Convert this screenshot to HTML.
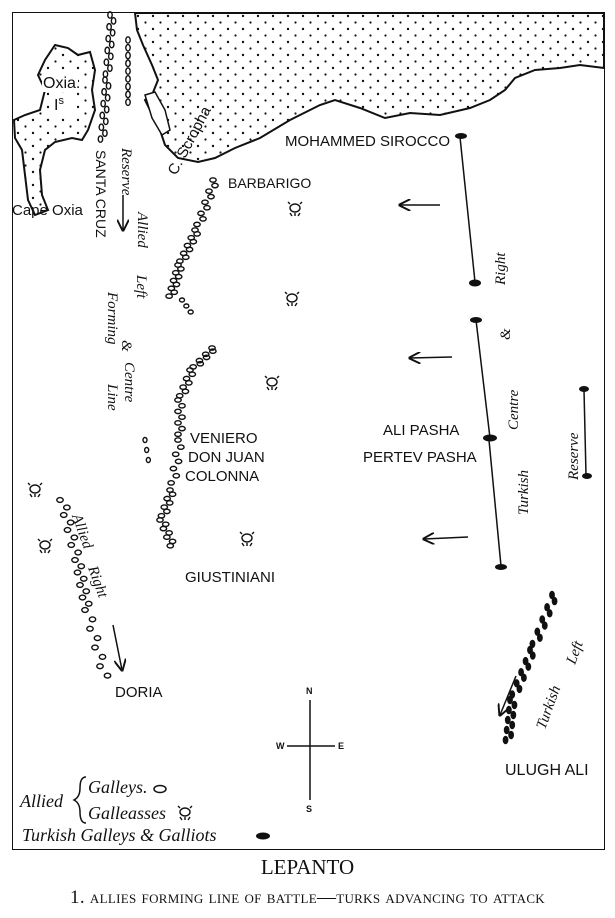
<!DOCTYPE html><html><head><meta charset="utf-8"><style>
html,body{margin:0;padding:0;background:#fff;width:615px;height:918px;overflow:hidden}
svg{position:absolute;left:0;top:0}
.t{font-family:"Liberation Sans",sans-serif;font-size:15px;fill:#111}
.i{font-family:"Liberation Serif",serif;font-style:italic;font-size:15px;fill:#111}
.cap{position:absolute;left:0;width:615px;text-align:center;font-family:"Liberation Serif",serif;color:#111}
</style></head><body>
<svg id="s" width="615" height="918" viewBox="0 0 615 918">
<defs><pattern id="dots" width="15" height="13" patternUnits="userSpaceOnUse"><circle cx="3" cy="3" r="1.2" fill="#111"/><circle cx="10.5" cy="9.5" r="1.1" fill="#111"/></pattern>
<marker id="ah" markerWidth="8" markerHeight="8" refX="7" refY="4" orient="auto"><path d="M0,0 L8,4 L0,8" fill="none" stroke="#111" stroke-width="1.3"/></marker></defs>
<rect x="12.5" y="12.5" width="592" height="837" fill="none" stroke="#111" stroke-width="1"/>
<path d="M135,13 L137,30 143,45 152,65 158,80 152,95 145,100 150,110 160,130 165,145 178,158 198,162 215,158 235,148 260,138 290,120 320,105 335,100 360,108 385,118 410,113 440,115 470,108 490,100 505,90 515,78 535,70 560,68 580,65 604,68 L604,13 Z" fill="url(#dots)" stroke="#111" stroke-width="2"/>
<path d="M145,95 L155,92 165,110 170,130 162,135 152,118 Z" fill="#fff" stroke="#111" stroke-width="1.5"/>
<path d="M55,45 L68,48 78,55 90,52 95,70 92,90 95,110 88,130 82,140 72,138 55,142 45,150 40,170 42,195 48,210 35,215 28,200 25,175 22,150 15,138 14,120 25,115 40,110 45,90 38,75 45,60 Z" fill="url(#dots)" stroke="#111" stroke-width="2"/>
<rect x="42" y="72" width="36" height="20" fill="#fff"/><rect x="52" y="93" width="25" height="22" fill="#fff"/>
<text class="t" x="43" y="88" style="font-size:16px">Oxia.</text>
<text class="t" x="54" y="110" style="font-size:16px">I<tspan font-size="11" dy="-6">s</tspan></text>
<text class="t" x="12" y="215" style="font-size:15px">Cape Oxia</text>
<text class="t" transform="translate(176,176) rotate(-62)" style="font-size:15px">C. Scropha</text>
<text class="t" x="285" y="146" style="font-size:15px">MOHAMMED SIROCCO</text>
<text class="t" x="228" y="188" style="font-size:14px">BARBARIGO</text>
<text class="t" x="190" y="443" style="font-size:15px">VENIERO</text>
<text class="t" x="188" y="462" style="font-size:15px">DON JUAN</text>
<text class="t" x="185" y="481" style="font-size:15px">COLONNA</text>
<text class="t" x="185" y="582" style="font-size:15px">GIUSTINIANI</text>
<text class="t" x="115" y="697" style="font-size:15px">DORIA</text>
<text class="t" x="383" y="435" style="font-size:15px">ALI PASHA</text>
<text class="t" x="363" y="462" style="font-size:15px">PERTEV PASHA</text>
<text class="t" x="505" y="775" style="font-size:16px">ULUGH ALI</text>
<text class="i" transform="translate(122,148) rotate(90)">Reserve</text>
<text class="t" transform="translate(96,150) rotate(90)" style="font-size:14px">SANTA CRUZ</text>
<text class="i" transform="translate(138,212) rotate(90)">Allied</text>
<text class="i" transform="translate(137,275) rotate(90)">Left</text>
<text class="i" transform="translate(108,292) rotate(90)">Forming</text>
<text class="i" transform="translate(122,340) rotate(90)">&amp;</text>
<text class="i" transform="translate(125,362) rotate(90)">Centre</text>
<text class="i" transform="translate(108,384) rotate(90)">Line</text>
<text class="i" transform="translate(72,516) rotate(70)">Allied</text>
<text class="i" transform="translate(88,568) rotate(70)">Right</text>
<text class="i" transform="translate(505,285) rotate(-90)">Right</text>
<text class="i" transform="translate(510,340) rotate(-90)">&amp;</text>
<text class="i" transform="translate(518,430) rotate(-90)">Centre</text>
<text class="i" transform="translate(528,515) rotate(-90)">Turkish</text>
<text class="i" transform="translate(578,480) rotate(-90)">Reserve</text>
<text class="i" transform="translate(575,665) rotate(-70)">Left</text>
<text class="i" transform="translate(545,730) rotate(-70)">Turkish</text>
<line x1="460" y1="137" x2="475" y2="282" stroke="#111" stroke-width="1.5"/>
<line x1="476" y1="320" x2="490" y2="438" stroke="#111" stroke-width="1.5"/>
<line x1="489" y1="440" x2="501" y2="566" stroke="#111" stroke-width="1.5"/>
<line x1="584" y1="390" x2="586" y2="475" stroke="#111" stroke-width="1.5"/>
<g fill="#111"><ellipse cx="461" cy="136" rx="6" ry="3"/><ellipse cx="475" cy="283" rx="6" ry="3.5"/><ellipse cx="476" cy="320" rx="6" ry="3"/><ellipse cx="490" cy="438" rx="7" ry="3.5"/><ellipse cx="501" cy="567" rx="6" ry="3"/><ellipse cx="584" cy="389" rx="5" ry="3"/><ellipse cx="587" cy="476" rx="5" ry="3"/><ellipse cx="263" cy="836" rx="7" ry="3.5"/></g>
<g stroke="#111" stroke-width="1.5" fill="none">
<line x1="440" y1="205" x2="400" y2="205" marker-end="url(#ah)"/>
<line x1="452" y1="357" x2="410" y2="358" marker-end="url(#ah)"/>
<line x1="468" y1="537" x2="424" y2="539" marker-end="url(#ah)"/>
<line x1="123" y1="195" x2="123" y2="230" marker-end="url(#ah)"/>
<line x1="113" y1="625" x2="122" y2="670" marker-end="url(#ah)"/>
<line x1="516" y1="676" x2="500" y2="715" marker-end="url(#ah)"/>
<line x1="310" y1="700" x2="310" y2="800" /><line x1="287" y1="746" x2="335" y2="746"/>
<path d="M86,777 Q80,777 80,788 Q80,797 74,800 Q80,803 80,812 Q80,823 86,823"/>
</g>
<g class="t" style="font-size:9px;font-weight:bold"><text x="306" y="694">N</text><text x="276" y="749">W</text><text x="338" y="749">E</text><text x="306" y="812">S</text></g>
<text class="i" x="20" y="807" style="font-size:18px">Allied</text>
<text class="i" x="88" y="793" style="font-size:18px">Galleys.</text>
<text class="i" x="88" y="819" style="font-size:18px">Galleasses</text>
<text class="i" x="22" y="841" style="font-size:18px">Turkish  Galleys  &amp;  Galliots</text>
<ellipse cx="160" cy="789" rx="6" ry="3.5" fill="none" stroke="#111" stroke-width="1.5"/>
<g id="g"></g>
</svg>
<div class="cap" style="top:855px;font-size:21px">LEPANTO</div>
<div class="cap" style="top:887px;font-size:19px;font-variant:small-caps;letter-spacing:0.3px">1. allies forming line of battle—turks advancing to attack</div>
<script>
var g=document.getElementById('g'),ns='http://www.w3.org/2000/svg';
function el(cx,cy,rx,ry,fill,rot){var e=document.createElementNS(ns,'ellipse');e.setAttribute('cx',cx);e.setAttribute('cy',cy);e.setAttribute('rx',rx);e.setAttribute('ry',ry);e.setAttribute('fill',fill?'#111':'none');e.setAttribute('stroke','#111');e.setAttribute('stroke-width','1.4');if(rot)e.setAttribute('transform','rotate('+rot+' '+cx+' '+cy+')');g.appendChild(e);}
function chain(pts,n,rx,ry,fill,off){for(var s=0;s<pts.length-1;s++){var a=pts[s],b=pts[s+1];for(var k=0;k<n;k++){var t=k/n;var x=a[0]+(b[0]-a[0])*t,y=a[1]+(b[1]-a[1])*t;el(x+(off&&k%2?off:0),y,rx,ry,fill,0);}}}
chain([[110,15],[105,80],[100,145]],11,2.2,3.2,0,4);
chain([[128,40],[128,110]],9,2.2,3.2,0);
chain([[213,180],[195,230],[178,265],[168,300]],9,3.2,2.2,0,4);
chain([[182,300],[195,318]],3,2.5,2,0);
chain([[212,348],[190,370],[178,400],[178,440],[170,490],[160,520],[172,550]],7,3.2,2.2,0,4);
chain([[145,440],[150,470]],3,2,2.5,0);
chain([[60,500],[75,560],[85,610],[105,685]],8,3.2,2.4,0,5);
chain([[552,595],[530,650],[510,700],[505,745]],9,2.2,3.5,1,5);
function gal(x,y){el(x,y,5,4,0);var p=document.createElementNS(ns,'path');p.setAttribute('d','M'+(x-5)+','+(y+5)+' l2,3 M'+x+','+(y+5)+' l0,3 M'+(x+5)+','+(y+5)+' l-2,3 M'+(x-5)+','+(y-4)+' l-2,-2 M'+(x+5)+','+(y-4)+' l2,-2');p.setAttribute('stroke','#111');p.setAttribute('fill','none');p.setAttribute('stroke-width','1.4');g.appendChild(p);}
[[295,208],[292,298],[272,382],[247,538],[35,489],[45,545],[185,812]].forEach(function(a){gal(a[0],a[1]);});
</script>
</body></html>
